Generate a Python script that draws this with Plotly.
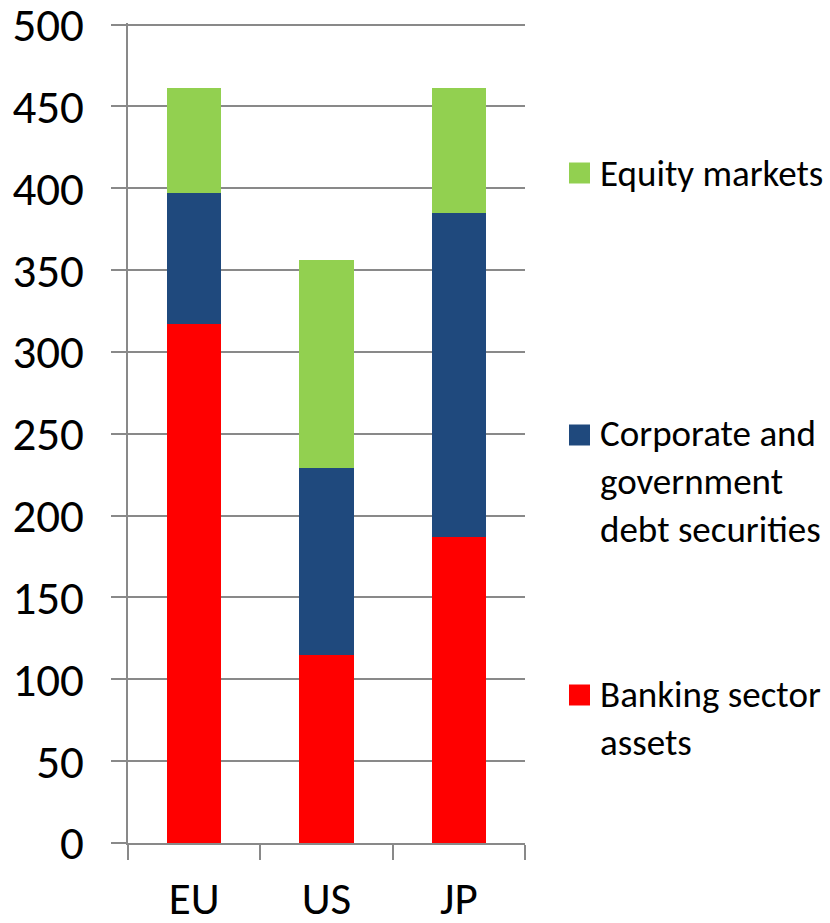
import plotly.graph_objects as go

regions = ["EU", "US", "JP"]
banking = [317, 115, 187]
debt = [80, 114, 198]
equity = [64, 127, 76]
series_names = ["Banking sector<br>assets", "Corporate and<br>government<br>debt securities", "Equity markets"]
colors = ["#FF0000", "#1F497D", "#92D050"]
y_ticks = [0, 50, 100, 150, 200, 250, 300, 350, 400, 450, 500]

FONT = "Calibri, Carlito, Lato, sans-serif"
Y_MAX = 501

fig = go.Figure()
for vals, name, col in zip([banking, debt, equity], series_names, colors):
    fig.add_trace(go.Bar(x=regions, y=vals, name=name, marker=dict(color=col, line=dict(width=0)),
                         showlegend=False))

# legend drawn as annotations with square markers
plot_top, plot_bot = 23, 843
ph = plot_bot - plot_top
legend_y = [718, 481, 173]  # pixel centers of each entry
for name, col, py in zip(series_names, colors, legend_y):
    nlines = name.count("<br>") + 1
    first_line_center = py - (nlines - 1) * 46 / 2
    yc = (plot_bot - first_line_center) / ph
    fig.add_shape(type="rect", xref="paper", yref="paper",
                  x0=(569 - 128) / (525 - 128), x1=(590 - 128) / (525 - 128),
                  y0=yc - 10.5 / ph, y1=yc + 10.5 / ph,
                  fillcolor=col, line=dict(width=0))
    fig.add_annotation(xref="paper", yref="paper", x=(598 - 128) / (525 - 128),
                       y=(plot_bot - py) / ph,
                       text=name, showarrow=False, xanchor="left", yanchor="middle", align="left",
                       font=dict(family=FONT, size=37, color="#000000"))

# top gridline at the max tick
fig.add_shape(type="line", xref="paper", yref="y", x0=-15 / (525 - 128), x1=1,
              y0=y_ticks[-1], y1=y_ticks[-1], line=dict(color="#898989", width=1.5))

fig.update_layout(
    width=830, height=923,
    margin=dict(l=128, r=305, t=plot_top, b=923 - plot_bot),
    barmode="stack", bargap=0.59,
    plot_bgcolor="white", paper_bgcolor="white",
    font=dict(family=FONT, color="#000000"),
    xaxis=dict(showline=True, linecolor="#898989", linewidth=1.5, ticks="outside", tickson="boundaries",
               ticklen=15, tickcolor="#898989", tickwidth=1.5, tickfont=dict(size=45), showgrid=False,
               automargin=False, ticklabelstandoff=15, ticklabeloverflow="allow"),
    yaxis=dict(range=[0, Y_MAX], tickvals=y_ticks, showline=True, linecolor="#898989", linewidth=1.5,
               ticks="outside", ticklen=15, tickcolor="#898989", tickwidth=1.5,
               showgrid=True, gridcolor="#898989", gridwidth=1.5, tickfont=dict(size=47),
               zeroline=False, automargin=False, ticklabelstandoff=18, ticklabeloverflow="allow"),
)

fig.write_html("out.html")
